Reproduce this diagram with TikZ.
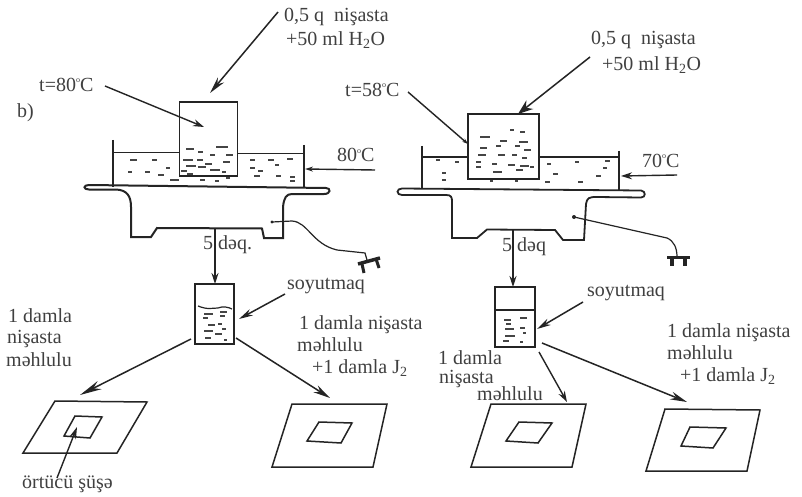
\documentclass[tikz,border=0pt]{standalone}
\usepackage{fontspec}
\setmainfont{Liberation Serif}
\usetikzlibrary{arrows.meta}
\definecolor{ink}{gray}{0.14}
\definecolor{txt}{gray}{0.25}
\newcommand{\dg}{\raisebox{8.5pt}{\fontsize{8}{8}\selectfont o}}
\tikzset{
  lab/.style={anchor=west,inner sep=0pt,text height=12pt,text depth=3pt,text=txt,font=\fontsize{20}{22}\selectfont},
  ln/.style={draw=ink,line width=1.6pt},
  thin line/.style={draw=ink,line width=1.2pt},
  slideedge/.style={draw=ink,line width=1.5pt,line join=miter},
  beaker/.style={draw=ink,line width=1.7pt,inner sep=0pt,fill=none},
  bigarrow/.style={draw=ink,line width=1.5pt,-{Stealth[length=17pt,width=8pt]}},
  smallarrow/.style={draw=ink,line width=1.4pt,-{Stealth[length=11pt,width=7pt]}},
  speck/.style={draw=ink!85,line width=1.3pt},
}
\newcommand{\specks}[1]{\foreach \sx/\sy/\sl in {#1}{\draw[speck] (\sx,\sy) -- ++(\sl,0);}}
\begin{document}
\begin{tikzpicture}[x=1pt,y=-1pt]
\useasboundingbox (0,0) rectangle (802,497);
\fill[white] (0,0) rectangle (802,497);

% ---- texts
\node[lab] (t1) at (284,17) {0,5 q\ \ nişasta};
\node[lab] (t2) at (286,41) {+50 ml H\textsubscript{2}O};
\node[lab] (t3) at (39,87) {t=80\dg C};
\node[lab] (t4) at (17,113) {b)};
\node[lab] (t5) at (337,157) {80\dg C};
\node[lab] (t6) at (203,245) {5 dəq.};
\node[lab] (t7) at (591,40) {0,5 q\ \ nişasta};
\node[lab] (t8) at (602,66) {+50 ml H\textsubscript{2}O};
\node[lab] (t9) at (345,92) {t=58\dg C};
\node[lab] (t10) at (642,163) {70\dg C};
\node[lab] (t11) at (502,247) {5 dəq};
\node[lab] (t12) at (287,285) {soyutmaq};
\node[lab] (t13) at (587,292) {soyutmaq};
\node[lab] (t14) at (8,318) {1 damla};
\node[lab] (t15) at (7,339) {nişasta};
\node[lab] (t16) at (6,362) {məhlulu};
\node[lab] (t17) at (299,325) {1 damla nişasta};
\node[lab] (t18) at (297,347) {məhlulu};
\node[lab] (t19) at (312,369) {+1 damla J\textsubscript{2}};
\node[lab] (t20) at (438,360) {1 damla};
\node[lab] (t21) at (439,379) {nişasta};
\node[lab] (t22) at (477,396) {məhlulu};
\node[lab] (t23) at (667,333) {1 damla nişasta};
\node[lab] (t24) at (667,355) {məhlulu};
\node[lab] (t25) at (680,377) {+1 damla J\textsubscript{2}};
\node[lab] (t26) at (22,484) {örtücü şüşə};

% ---- left apparatus
\node[beaker,minimum width=58pt,minimum height=74pt] (b1) at (208.5,138.7) {};
\draw[ln] (113,140) -- (113,187);
\draw[ln] (304,145) -- (304,188);
\draw[ln] (113,152.7) -- (b1.west |- 0,152.7);
\draw[ln] (b1.east |- 0,153.5) -- (304,153.5);
\draw[draw=ink,line width=2pt] (326,188) -- (89,185) .. controls (83,185) and (83,189.5) .. (89,189.5) -- (116,189.5)
  .. controls (127,190) and (131,196) .. (131,207) -- (131,237) -- (151,237) -- (157,228) -- (262,228.5) -- (264,238) -- (283,238) -- (283,207)
  .. controls (284,198) and (286,194) .. (292,194) -- (324,194) .. controls (331,194) and (331,188) .. (326,188);
\specks{130/160/7,152/160/5,166/168/4,128/172/4,145/172/5,158/175/6,186/149/8,198/152/5,216/147/12,183/160/10,197/160/6,210/155/5,226/155/7,
186/166/10,205/164/7,223/162/7,181/171/6,198/167/8,210/170/10,222/172/4,187/174/6,250/160/5,268/160/6,287/159/6,250/168/5,258/171/5,275/165/4,254/176/6,276/176/5,290/177/5,170/180/9,200/180/5,215/181/4,226/178/4,290/181/5}
\coordinate (e1) at (272,222);
\fill[ink] (e1) circle (1.6pt);
\draw[thin line] (e1) -- (292,221) .. controls (308,222) and (312,244) .. (337,250) -- (365,253) -- (367,260);
\draw[draw=ink,line width=3.5pt] (358,264) -- (380,258);
\draw[draw=ink,line width=3pt] (362,264) -- (364,273) (376,259) -- (379,268);

% ---- right apparatus
\node[beaker,minimum width=71pt,minimum height=65pt] (b2) at (503.5,146.5) {};
\draw[ln] (422,146) -- (422,189);
\draw[ln] (619,151) -- (619,190);
\draw[ln] (422,157) -- (b2.west |- 0,157);
\draw[ln] (b2.east |- 0,157) -- (619,157);
\draw[draw=ink,line width=1.8pt] (402,188.5) -- (641,190.5) .. controls (646,191) and (646,197.5) .. (641,197.5) -- (596,197)
  .. controls (589,197) and (587,198) .. (586,204) -- (584,240) -- (563,240) -- (555,230) -- (487,229.5) -- (477,238) -- (452,238) -- (452,201)
  .. controls (452,197) and (451,195) .. (446,195) -- (402,195) .. controls (396,195) and (396,188.5) .. (402,188.5);
\specks{485/137/5,510/130/4,520/132/5,480/137/5,500/141/7,519/142/9,480/148/7,496/146/5,515/146/5,524/150/7,
478/155/8,498/155/7,512/155/5,522/158/5,476/162/5,492/164/5,508/165/7,520/166/9,476/167/5,493/172/9,516/170/7,530/167/4,
436/160/4,455/162/4,442/173/4,442/180/4,547/164/4,575/162/4,605/161/5,553/174/5,596/176/5,603/168/4,545/182/5,578/182/5,490/181/3,515/181/3}
\coordinate (e2) at (574,217);
\fill[ink] (e2) circle (2pt);
\draw[thin line] (e2) -- (667,238) .. controls (674,241) and (677,248) .. (677,257);
\draw[draw=ink,line width=2.8pt] (667,257.5) -- (690,257.5);
\draw[draw=ink,line width=3.5pt] (672,258) -- (672,266) (685,258) -- (685,266);

% ---- small beakers
\node[beaker,minimum width=39pt,minimum height=60pt] (b3) at (214.5,314) {};
\node[beaker,minimum width=40pt,minimum height=60pt] (b4) at (515,317) {};
\draw[thin line] (198,306) .. controls (208,310) and (212,308) .. (218,308) .. controls (223,306) and (228,307) .. (232,309);
\draw[draw=ink,line width=2.2pt] (b4.west |- 0,310) -- (b4.east |- 0,310);
\specks{204/314/9,220/312/7,203/318/5,220/316/5,208/325/7,218/324/4,204/331/9,215/334/7,205/338/6,222/329/4,224/340/3}
\specks{504/320/7,520/318/7,506/324/5,505/329/9,520/328/5,523/333/3,505/336/10,503/341/6,520/342/3}

% ---- slides
\draw[slideedge] (55,401) -- (147,402) -- (117,453) -- (23,453) -- cycle;
\draw[slideedge] (75,416) -- (102,417) -- (90,438) -- (64,436) -- cycle;
\draw[slideedge] (292,404) -- (387,404) -- (373,467) -- (272,467) -- cycle;
\draw[slideedge] (319,422) -- (352,423) -- (341,443) -- (307,441) -- cycle;
\draw[slideedge] (491,404) -- (586,404) -- (572,467) -- (471,467) -- cycle;
\draw[slideedge] (519,422) -- (552,423) -- (538,443) -- (506,441) -- cycle;
\draw[slideedge] (665,409) -- (760,410) -- (747,471) -- (646,471) -- cycle;
\draw[slideedge] (690,427) -- (726,428) -- (713,448) -- (681,446) -- cycle;

% ---- connector ends
\coordinate (a1) at (278,12);   \coordinate (a2) at (210,93);
\coordinate (a3) at (105,86);   \coordinate (a4) at (204,127);
\coordinate (a5) at (375,170);  \coordinate (a6) at (305,169);
\coordinate (a7) at (215,228);  \coordinate (a8) at (215,284);
\coordinate (a9) at (590,57);   \coordinate (a10) at (518,114);
\coordinate (a11) at (408,92);  \coordinate (a12) at (468,144);
\coordinate (a13) at (677,175); \coordinate (a14) at (621,176);
\coordinate (a15) at (513,230); \coordinate (a16) at (513,287);
\coordinate (a17) at (285,294); \coordinate (a18) at (239,319);
\coordinate (a19) at (191,339); \coordinate (a20) at (80,395);
\coordinate (a21) at (236,338); \coordinate (a22) at (330,398);
\coordinate (a23) at (583,302); \coordinate (a24) at (537,329);
\coordinate (a25) at (539,352); \coordinate (a26) at (567,402);
\coordinate (a27) at (542,343); \coordinate (a28) at (687,402);
\coordinate (a29) at (57,478);  \coordinate (a30) at (77,427);

% ---- connectors
\draw[bigarrow] (a1) -- (a2);
\draw[smallarrow] (a3) -- (a4);
\draw[smallarrow,-{Stealth[length=8pt,width=5pt]}] (a5) -- (a6);
\draw[smallarrow] (a7) -- (a8);
\draw[bigarrow,-{Stealth[length=15pt,width=11pt]}] (a9) -- (a10);
\draw[smallarrow,-{Stealth[length=6pt,width=4pt]}] (a11) -- (a12);
\draw[smallarrow] (a13) -- (a14);
\draw[smallarrow] (a15) -- (a16);
\draw[bigarrow,-{Stealth[length=14pt,width=7pt]}] (a17) -- (a18);
\draw[bigarrow,-{Stealth[length=22pt,width=9pt]}] (a19) -- (a20);
\draw[bigarrow] (a21) -- (a22);
\draw[bigarrow,-{Stealth[length=14pt,width=7pt]}] (a23) -- (a24);
\draw[smallarrow] (a25) -- (a26);
\draw[bigarrow] (a27) -- (a28);
\draw[smallarrow,-{Stealth[length=12pt,width=7pt]}] (a29) -- (a30);
\end{tikzpicture}
\end{document}
